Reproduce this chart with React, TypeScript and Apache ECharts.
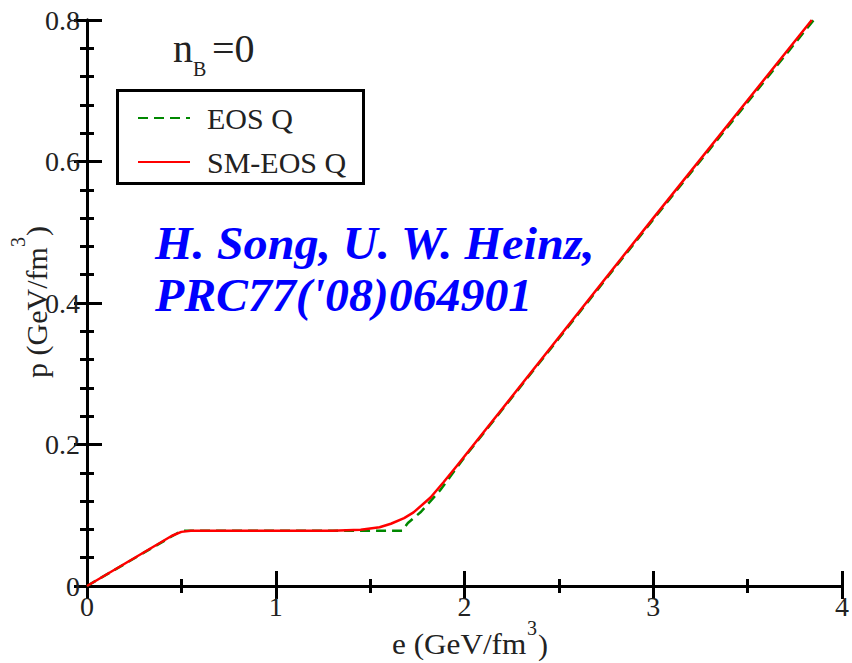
import React, { useEffect, useRef } from "react";
import * as echarts from "echarts";

// EOS Q (green dashed)
const eosQ_e = [0, 0.5, 1.67, 1.7, 1.77, 1.8, 1.87, 1.92, 2.0, 3.0, 3.85];
const eosQ_p = [0, 0.078, 0.078, 0.089, 0.105, 0.114, 0.135, 0.153, 0.182, 0.518, 0.8];
// SM-EOS Q (red solid)
const smQ_e = [0, 0.45, 0.5, 0.55, 1.3, 1.45, 1.55, 1.61, 1.68, 1.73, 1.82, 1.89, 1.96, 2.02, 3.0, 3.84];
const smQ_p = [0, 0.071, 0.0765, 0.078, 0.078, 0.0795, 0.083, 0.088, 0.096, 0.104, 0.125, 0.147, 0.17, 0.19, 0.52, 0.8];

const xTicks = [0, 1, 2, 3, 4];
const yTicks = [0, 0.2, 0.4, 0.6, 0.8];
const seriesNames = ["EOS Q", "SM-EOS Q"];

const SERIF = "Liberation Serif";

export default function App() {
  const ref = useRef<HTMLDivElement>(null);
  useEffect(() => {
    if (!ref.current) return;
    const chart = echarts.init(ref.current, null, { renderer: "svg" });
    const zip = (xs: number[], ys: number[]) => xs.map((x, i) => [x, ys[i]]);
    const axisLine = { show: true, lineStyle: { color: "#000", width: 3 } };
    const majorTick = { show: true, inside: true, length: 15, lineStyle: { color: "#000", width: 3 } };
    const minorTick = { show: true, length: 7, lineStyle: { color: "#000", width: 3 } };
    const labelStyle = { fontFamily: SERIF, fontSize: 28, color: "#222" };
    const txt = (text: string, x: number, y: number, size: number, extra: any = {}, el: any = {}) => ({
      type: "text", x, y, ...el,
      style: { text, fontFamily: SERIF, fontSize: size, fill: "#222", verticalAlign: "middle", ...extra },
    });
    const blue = { fill: "#0000ff", fontStyle: "italic", fontWeight: "bold" };
    const option: any = {
      animation: false,
      backgroundColor: "#fff",
      textStyle: { fontFamily: SERIF },
      grid: { left: 87, right: 4, top: 20, bottom: 77, containLabel: false },
      xAxis: [
        {
          type: "value", min: xTicks[0], max: xTicks[xTicks.length - 1], interval: 1,
          axisLine, axisTick: majorTick, minorTick: { ...minorTick, splitNumber: 2 },
          splitLine: { show: false },
          axisLabel: { ...labelStyle, margin: 6 },
        },
        {
          type: "value", position: "top", min: 0, max: 4, interval: 1,
          axisLine, axisTick: { ...majorTick, length: 13 }, minorTick: { ...minorTick, splitNumber: 2 },
          splitLine: { show: false }, axisLabel: { show: false },
        },
      ],
      yAxis: [
        {
          type: "value", min: yTicks[0], max: yTicks[yTicks.length - 1], interval: 0.2,
          axisLine, axisTick: majorTick, minorTick: { ...minorTick, splitNumber: 5 },
          splitLine: { show: false },
          axisLabel: { ...labelStyle, margin: 7, formatter: (v: number) => (v === 0 ? "0" : v.toFixed(1)) },
        },
        {
          type: "value", position: "right", min: 0, max: 0.8, interval: 0.2,
          axisLine, axisTick: { ...majorTick, length: 13 }, minorTick: { ...minorTick, splitNumber: 5 },
          splitLine: { show: false }, axisLabel: { show: false },
        },
      ],
      legend: {
        orient: "vertical",
        left: 132,
        top: 98,
        itemWidth: 52,
        itemHeight: 14,
        itemGap: 14,
        itemStyle: { opacity: 0 },
        textStyle: { fontFamily: SERIF, fontSize: 30, color: "#222", padding: [0, 0, 0, 12] },
        data: seriesNames,
      },
      series: [
        {
          name: seriesNames[0], type: "line", data: zip(eosQ_e, eosQ_p),
          symbol: "none", z: 2, clip: true,
          lineStyle: { color: "#008800", width: 2.5, type: [10, 6] },
          itemStyle: { color: "#008800" },
        },
        {
          name: seriesNames[1], type: "line", data: zip(smQ_e, smQ_p),
          symbol: "none", z: 3, clip: true,
          lineStyle: { color: "#ff0000", width: 2.5 },
          itemStyle: { color: "#ff0000" },
        },
      ],
      graphic: [
        {
          type: "rect", left: 116, top: 89, z: 1,
          shape: { width: 246, height: 93 },
          style: { fill: "#fff", stroke: "#000", lineWidth: 3 },
        },
        txt("n", 173, 48, 40),
        txt("B", 193, 69, 20),
        txt("=0", 212, 48, 40),
        txt("H. Song, U. W. Heinz,", 155, 243, 46, blue, { scaleX: 1.05 }),
        txt("PRC77('08)064901", 155, 295, 46, blue, { scaleX: 1.04 }),
        txt("e (GeV/fm", 392, 644, 30, {}, { scaleX: 1.04 }),
        txt("3", 527, 628, 20),
        txt(")", 538, 644, 30),
        {
          type: "group", x: 36, y: 378, rotation: Math.PI / 2,
          children: [
            txt("p (GeV/fm", 0, 0, 30),
            txt("3", 131, -18, 20),
            txt(")", 142, 0, 30),
          ],
        },
      ],
    };
    chart.setOption(option);
    return () => chart.dispose();
  }, []);
  return <div ref={ref} style={{ width: 852, height: 663, position: "absolute", left: 0, top: 0 }} />;
}
